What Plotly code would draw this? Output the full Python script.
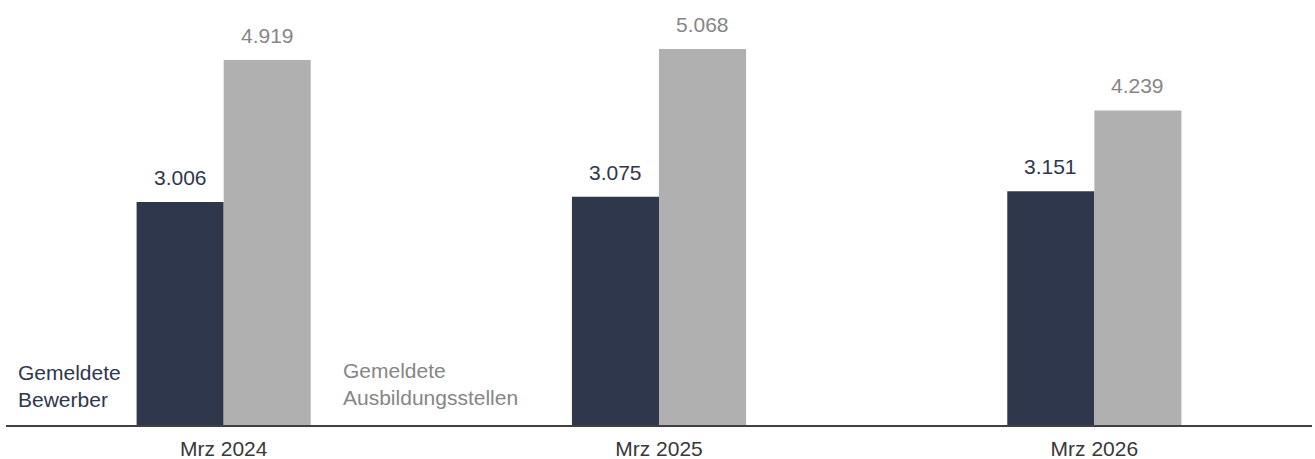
import plotly.graph_objects as go

categories = ["Mrz 2024", "Mrz 2025", "Mrz 2026"]
bewerber = [3006, 3075, 3151]
stellen = [4919, 5068, 4239]
bewerber_labels = ["3.006", "3.075", "3.151"]
stellen_labels = ["4.919", "5.068", "4.239"]

NAVY = "#2f374d"
GRAY_BAR = "#b0b0b0"
GRAY_TXT = "#868686"
FONT = "Liberation Sans, Arial, sans-serif"

W, H = 1315, 459
ML, MR, MT, MB = 6, 3, 0, 34

fig = go.Figure()
fig.add_trace(go.Bar(x=list(range(3)), y=bewerber, marker=dict(color=NAVY, line=dict(width=0)),
                     name="Gemeldete Bewerber", hoverinfo="skip"))
fig.add_trace(go.Bar(x=list(range(3)), y=stellen, marker=dict(color=GRAY_BAR, line=dict(width=0)),
                     name="Gemeldete Ausbildungsstellen", hoverinfo="skip"))

annotations = []
for i in range(3):
    annotations.append(dict(x=i - 0.1, y=bewerber[i], xref="x", yref="y", text=bewerber_labels[i],
                            showarrow=False, yanchor="bottom", yshift=11,
                            font=dict(size=21, color=NAVY, family=FONT)))
    annotations.append(dict(x=i + 0.1, y=stellen[i], xref="x", yref="y", text=stellen_labels[i],
                            showarrow=False, yanchor="bottom", yshift=11,
                            font=dict(size=21, color=GRAY_TXT, family=FONT)))

pw = W - ML - MR
annotations.append(dict(x=(16 - ML) / pw, y=0, xref="paper", yref="paper",
                        text="Gemeldete<br>Bewerber", showarrow=False, align="left",
                        xanchor="left", yanchor="bottom", yshift=12,
                        font=dict(size=21, color=NAVY, family=FONT)))
annotations.append(dict(x=(341 - ML) / pw, y=0, xref="paper", yref="paper",
                        text="Gemeldete<br>Ausbildungsstellen", showarrow=False, align="left",
                        xanchor="left", yanchor="bottom", yshift=14,
                        font=dict(size=21, color=GRAY_TXT, family=FONT)))

fig.update_layout(
    width=W, height=H,
    margin=dict(l=ML, r=MR, t=MT, b=MB, pad=0),
    paper_bgcolor="white", plot_bgcolor="white",
    barmode="group", bargap=0.6, bargroupgap=0,
    showlegend=False,
    annotations=annotations,
    xaxis=dict(tickmode="array", tickvals=list(range(3)), ticktext=categories,
               range=[-0.5, 2.5], showgrid=False, zeroline=False,
               showline=True, linecolor="#404040", linewidth=2, ticks="",
               ticklabelstandoff=4,
               tickfont=dict(size=21, color="#383838", family=FONT), automargin=False),
    yaxis=dict(range=[0, 5727], visible=False, showgrid=False, zeroline=False, fixedrange=True),
)

fig.write_html("out.html", config={"displayModeBar": False, "staticPlot": True},
               post_script="document.body.style.margin='0';document.body.style.overflow='hidden';")
